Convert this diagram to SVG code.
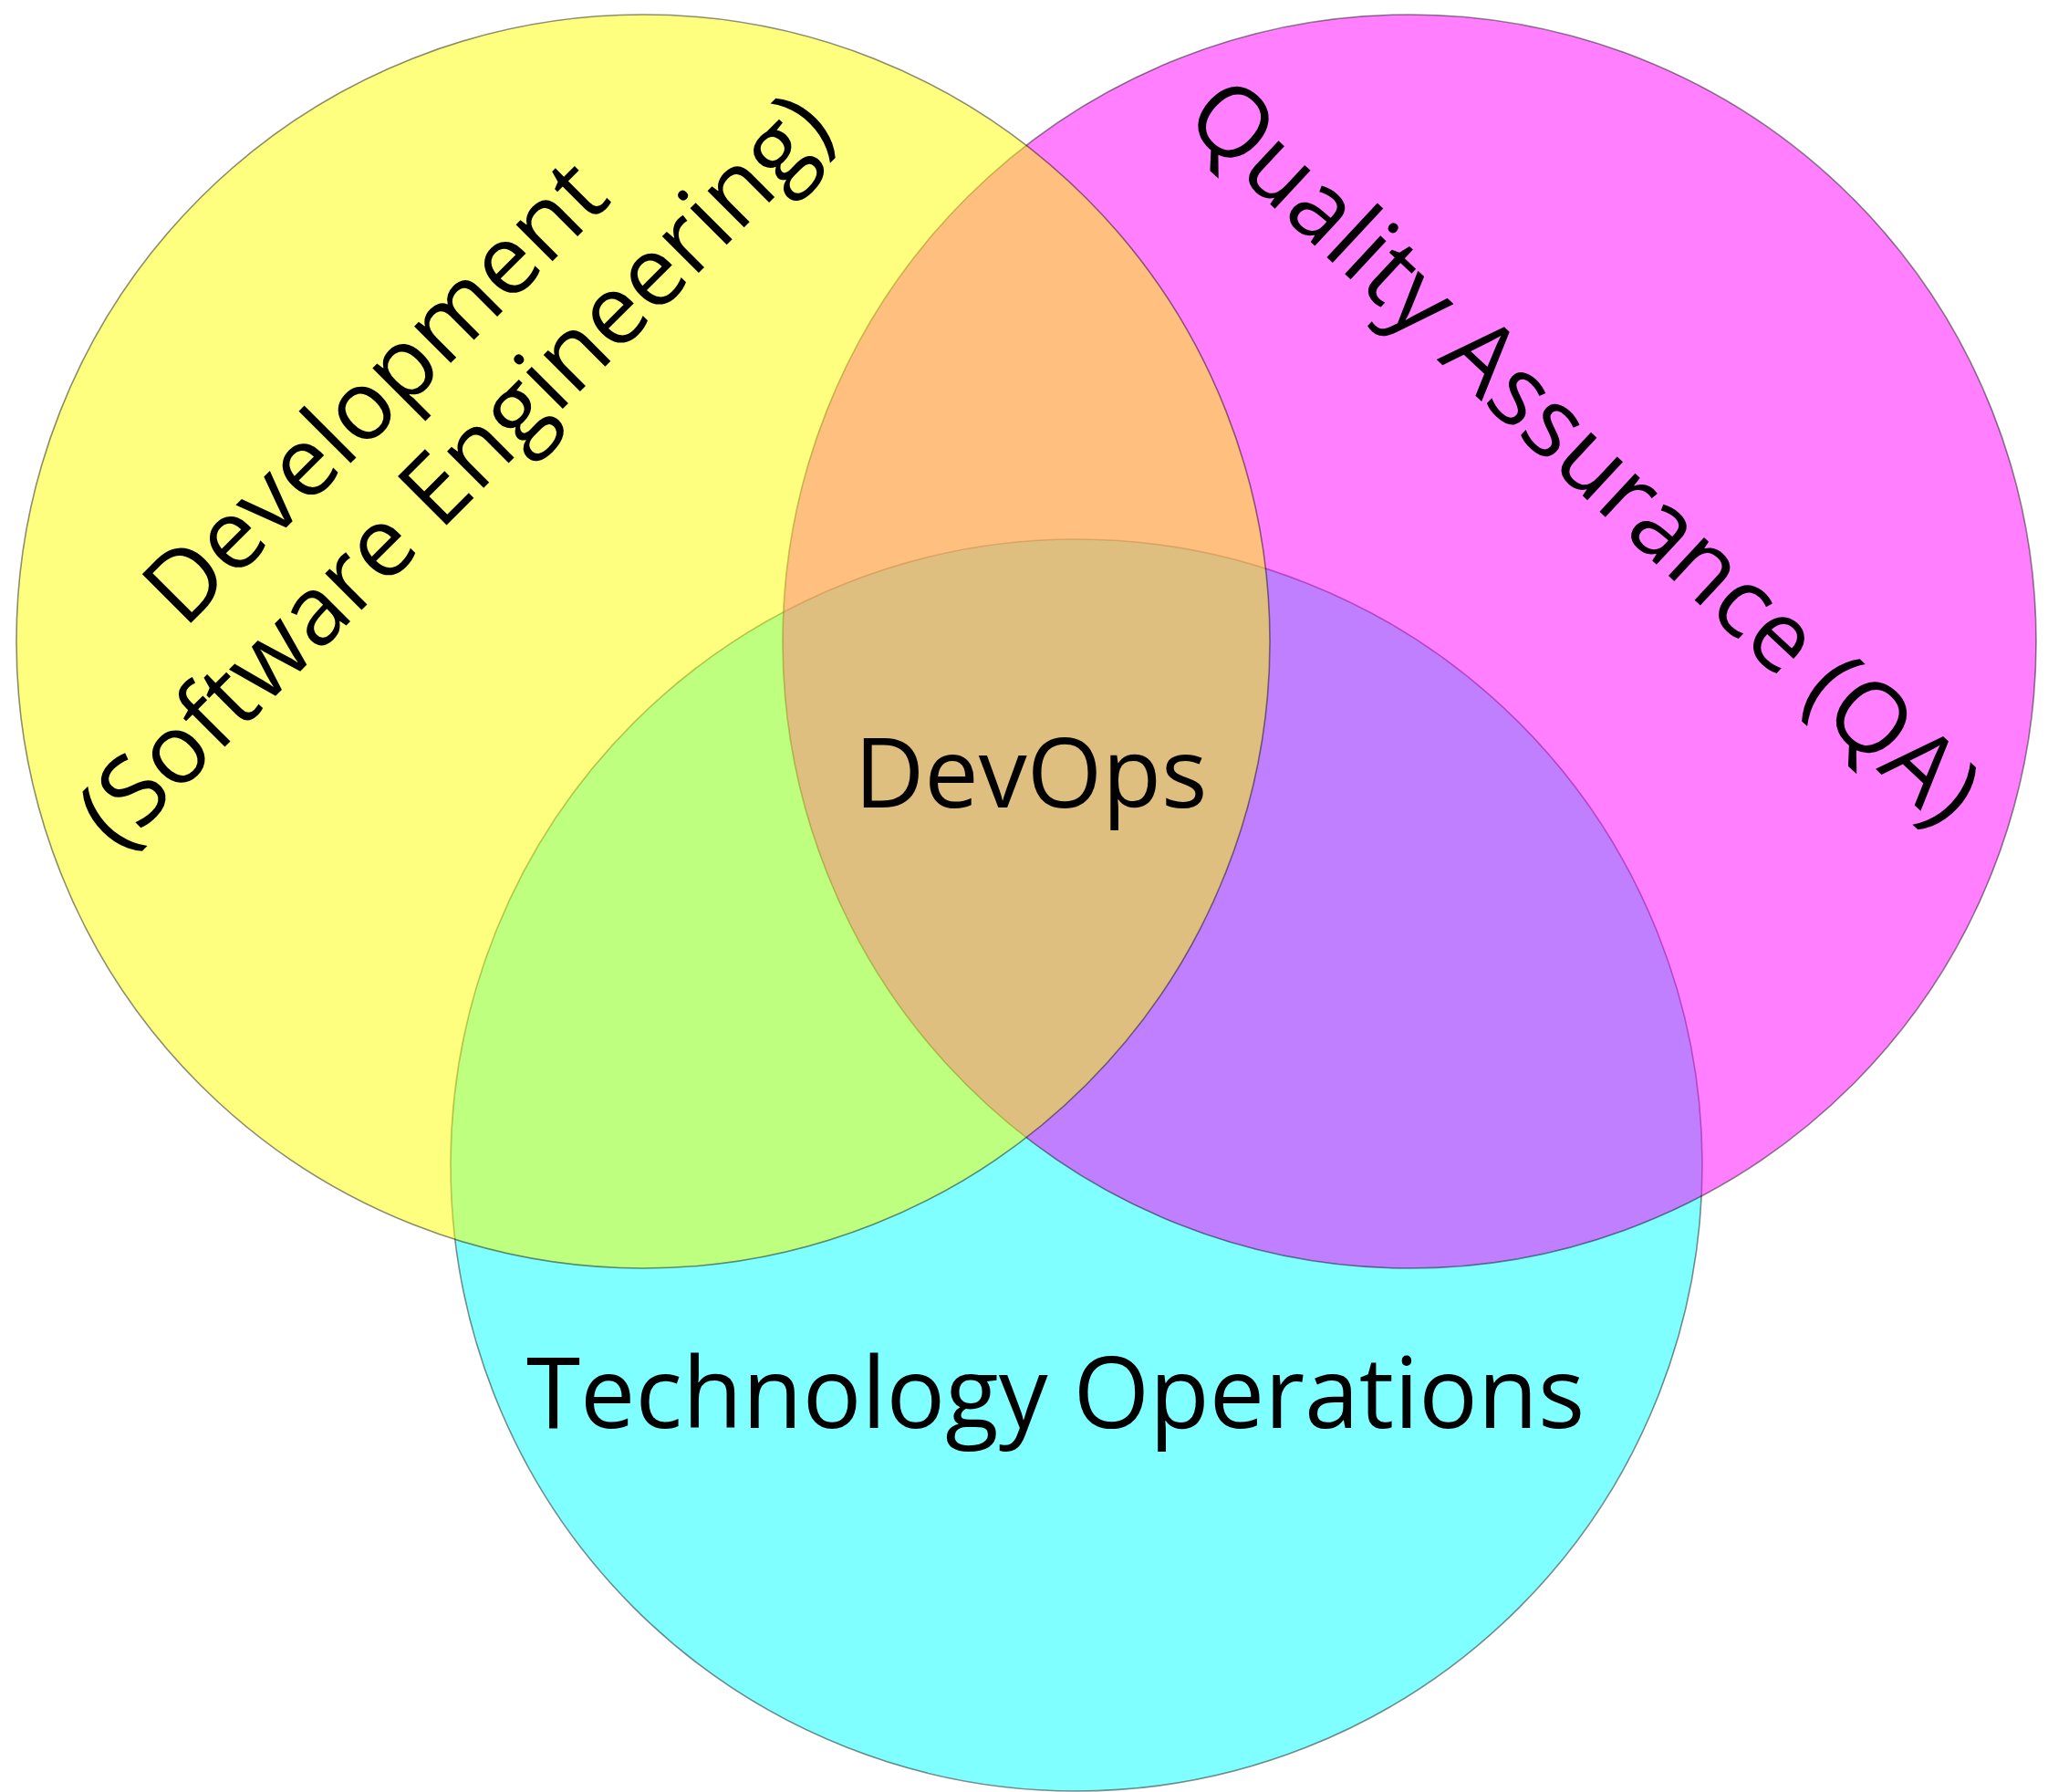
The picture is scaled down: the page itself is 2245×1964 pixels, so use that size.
<svg xmlns="http://www.w3.org/2000/svg" width="2245" height="1964" viewBox="0 0 2245 1964">
<style>
.c{stroke:#000;stroke-opacity:.45;stroke-width:1.6;fill-opacity:.5}
.t{font-family:"Open Sans","Noto Sans","DejaVu Sans",sans-serif;font-size:106px;fill:#000;text-anchor:middle}
</style>
<rect width="2245" height="1964" fill="#fff"/>
<g id="ops"><circle class="c" cx="1180" cy="1277" r="686" fill="#00ffff"/></g>
<g id="qa"><circle class="c" cx="1545" cy="703" r="687" fill="#ff00ff"/></g>
<g id="dev"><circle class="c" cx="705" cy="703" r="687" fill="#ffff00"/></g>
<g id="connectors"></g>
<g id="labels">
<text class="t" transform="translate(437,455) rotate(-45)">Development</text>
<text class="t" transform="translate(524,541) rotate(-45)">(Software Engineering)</text>
<text class="t" transform="translate(1712,522) rotate(43)" style="font-size:107px">Quality Assurance (QA)</text>
<text class="t" x="1130" y="885">DevOps</text>
<text class="t" x="1157" y="1565" style="font-size:107.5px">Technology Operations</text>
</g>
</svg>
